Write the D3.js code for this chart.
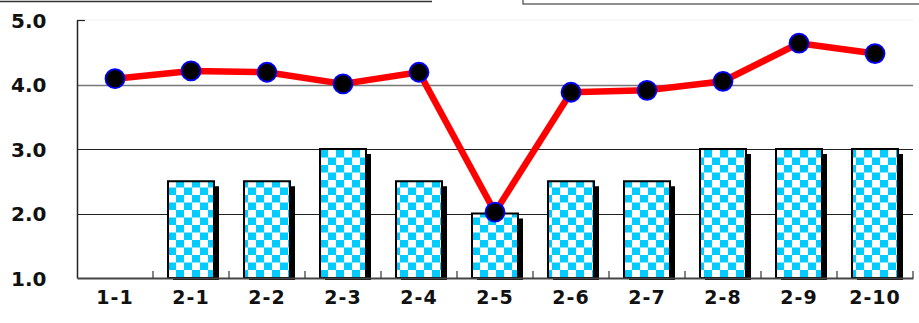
<!DOCTYPE html>
<html>
<head>
<meta charset="utf-8">
<script src="https://cdn.jsdelivr.net/npm/d3@7"></script>
<style>
  body { margin: 0; background: #fff; }
  svg { display: block; }
  text { font-family: "DejaVu Sans", sans-serif; font-weight: bold; fill: #111; }
</style>
</head>
<body>
<svg width="919" height="323"></svg>
<script>
var categories = ["1-1","2-1","2-2","2-3","2-4","2-5","2-6","2-7","2-8","2-9","2-10"];
var barValues = [null, 2.5, 2.5, 3.0, 2.5, 2.0, 2.5, 2.5, 3.0, 3.0, 3.0];
var lineValues = [4.09, 4.21, 4.19, 4.01, 4.19, 2.02, 3.88, 3.91, 4.05, 4.64, 4.48];
var yTicks = [1.0, 2.0, 3.0, 4.0, 5.0];

var svg = d3.select("svg");
var pLeft = 77, pRight = 913, pTop = 20, pBottom = 278;

var xs = d3.scaleBand().domain(categories).range([pLeft, pRight]).paddingInner(0);
var ys = d3.scaleLinear().domain([1, 5]).range([pBottom, pTop]);

// checker pattern for bars
var defs = svg.append("defs");
var pat = defs.append("pattern")
  .attr("id", "checker")
  .attr("patternUnits", "userSpaceOnUse")
  .attr("width", 16).attr("height", 15);
pat.append("rect").attr("width", 16).attr("height", 15).attr("fill", "#ffffff");
pat.append("rect").attr("x", 0).attr("y", 0).attr("width", 8).attr("height", 7.5).attr("fill", "#00ccff");
pat.append("rect").attr("x", 8).attr("y", 7.5).attr("width", 8).attr("height", 7.5).attr("fill", "#00ccff");

// cut-off boxes at the top edge
svg.append("line")
  .attr("x1", 0).attr("x2", 432).attr("y1", 1.5).attr("y2", 1.5)
  .attr("stroke", "#333").attr("stroke-width", 1.5);
svg.append("rect")
  .attr("x", 523).attr("y", -20).attr("width", 420).attr("height", 24)
  .attr("fill", "none").attr("stroke", "#444").attr("stroke-width", 1.2);

// plot frame top line (faint)
svg.append("line")
  .attr("x1", pLeft).attr("x2", pRight).attr("y1", pTop).attr("y2", pTop)
  .attr("stroke", "#eeeeee").attr("stroke-width", 1);

// gridlines
svg.append("g")
  .selectAll("line")
  .data([2, 3, 4])
  .enter()
  .append("line")
  .attr("x1", pLeft).attr("x2", pRight)
  .attr("y1", function(d) { return Math.round(ys(d)) + 0.5; })
  .attr("y2", function(d) { return Math.round(ys(d)) + 0.5; })
  .attr("stroke", function(d) { return d == 4 ? "#777" : "#222"; })
  .attr("stroke-width", function(d) { return d == 4 ? 1.5 : 1.2; });

// y axis
var yAxis = svg.append("g")
  .attr("transform", "translate(" + pLeft + ",0)")
  .call(d3.axisLeft(ys).tickValues(yTicks).tickFormat(d3.format(".1f")).tickSize(0));
yAxis.select(".domain").attr("stroke", "#222").attr("stroke-width", 1.5);
yAxis.selectAll("text").attr("font-size", 20).attr("text-anchor", "start").attr("x", -66).attr("dy", "0.35em");
svg.append("line")
  .attr("x1", pLeft).attr("x2", pLeft + 8).attr("y1", pTop + 0.5).attr("y2", pTop + 0.5)
  .attr("stroke", "#222").attr("stroke-width", 1.2);

// bars with shadow
var barData = categories.map(function(c, i) { return { cat: c, v: barValues[i] }; })
  .filter(function(d) { return d.v != null; });
var bw = 46;
var bars = svg.append("g");
bars.selectAll("rect.shadow")
  .data(barData)
  .enter()
  .append("rect")
  .attr("class", "shadow")
  .attr("x", function(d) { return xs(d.cat) + xs.bandwidth() / 2 - bw / 2 + 5; })
  .attr("y", function(d) { return ys(d.v) + 5; })
  .attr("width", bw)
  .attr("height", function(d) { return pBottom + 2 - ys(d.v) - 5; })
  .attr("fill", "#000");
bars.selectAll("rect.bar")
  .data(barData)
  .enter()
  .append("rect")
  .attr("class", "bar")
  .attr("x", function(d) { return xs(d.cat) + xs.bandwidth() / 2 - bw / 2; })
  .attr("y", function(d) { return ys(d.v); })
  .attr("width", bw)
  .attr("height", function(d) { return pBottom - ys(d.v); })
  .attr("fill", "url(#checker)")
  .attr("stroke", "#000")
  .attr("stroke-width", 2);

// x axis
var xAxis = svg.append("g")
  .attr("transform", "translate(0," + pBottom + ")")
  .call(d3.axisBottom(xs).tickSize(0).tickPadding(13));
xAxis.select(".domain").attr("stroke", "#444").attr("stroke-width", 2);
xAxis.selectAll("text").attr("font-size", 19).attr("dy", "0.71em").style("letter-spacing", "1px");
svg.append("g")
  .selectAll("line")
  .data(categories.slice(1).concat(["end"]))
  .enter()
  .append("line")
  .attr("x1", function(d) { return d == "end" ? pRight : xs(d); })
  .attr("x2", function(d) { return d == "end" ? pRight : xs(d); })
  .attr("y1", pBottom - 7).attr("y2", pBottom)
  .attr("stroke", "#333").attr("stroke-width", 1.2);

// line + markers
var pts = categories.map(function(c, i) { return { cat: c, v: lineValues[i] }; });
var line = d3.line()
  .x(function(d) { return xs(d.cat) + xs.bandwidth() / 2; })
  .y(function(d) { return ys(d.v); });
svg.append("path")
  .datum(pts)
  .attr("d", line)
  .attr("fill", "none")
  .attr("stroke", "#ff0000")
  .attr("stroke-width", 6.5)
  .attr("stroke-linejoin", "round");
svg.append("g")
  .selectAll("circle")
  .data(pts)
  .enter()
  .append("circle")
  .attr("cx", function(d) { return xs(d.cat) + xs.bandwidth() / 2; })
  .attr("cy", function(d) { return ys(d.v); })
  .attr("r", 9.5)
  .attr("fill", "#000")
  .attr("stroke", "#0000ff")
  .attr("stroke-width", 1.8);
</script>
</body>
</html>
